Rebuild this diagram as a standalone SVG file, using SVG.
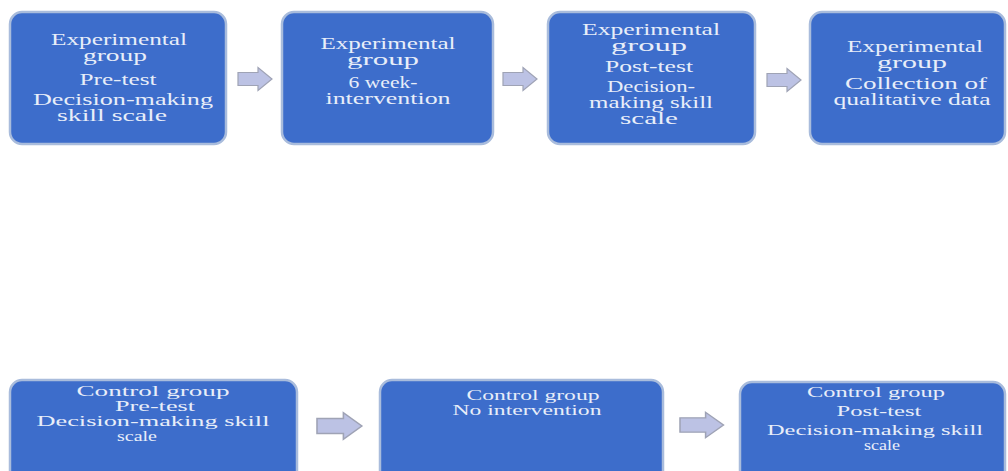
<svg xmlns="http://www.w3.org/2000/svg" width="1008" height="471" viewBox="0 0 1008 471">
<style>
.box{fill:#3d6dcb;stroke:#a9bcdc;stroke-width:2.5}
.t{font-family:"Liberation Serif","Times New Roman",serif;font-size:16px;fill:#e8eef9;text-anchor:middle}
.s{font-size:15px}
.arr{fill:#bcc2e4;stroke:#9fa3b5;stroke-width:1.2}
</style>
<defs>
<path id="arrow" d="M0,-6.5 H20 V-11.5 L34,0 L20,11.5 V6.5 H0 Z"/>
</defs>
<rect width="1008" height="471" fill="#ffffff"/>
<g id="exp-pretest">
<rect class="box" x="10" y="12" width="216" height="132" rx="12"/>
<text class="t" x="119" y="45" textLength="136" lengthAdjust="spacingAndGlyphs">Experimental</text>
<text class="t" x="115" y="61" textLength="64" lengthAdjust="spacingAndGlyphs">group</text>
<text class="t" x="118" y="85" textLength="77" lengthAdjust="spacingAndGlyphs">Pre-test</text>
<text class="t" x="123" y="105" textLength="180" lengthAdjust="spacingAndGlyphs">Decision-making</text>
<text class="t" x="112" y="121" textLength="110" lengthAdjust="spacingAndGlyphs">skill scale</text>
</g>
<g id="exp-intervention">
<rect class="box" x="282" y="12" width="211" height="132" rx="12"/>
<text class="t" x="388" y="49" textLength="135" lengthAdjust="spacingAndGlyphs">Experimental</text>
<text class="t" x="383" y="65" textLength="72" lengthAdjust="spacingAndGlyphs">group</text>
<text class="t" x="383" y="88" textLength="69" lengthAdjust="spacingAndGlyphs">6 week-</text>
<text class="t" x="388" y="104" textLength="125" lengthAdjust="spacingAndGlyphs">intervention</text>
</g>
<g id="exp-posttest">
<rect class="box" x="548" y="12" width="207" height="132" rx="12"/>
<text class="t" x="651" y="35" textLength="138" lengthAdjust="spacingAndGlyphs">Experimental</text>
<text class="t" x="649" y="51" textLength="76" lengthAdjust="spacingAndGlyphs">group</text>
<text class="t" x="649" y="72" textLength="88" lengthAdjust="spacingAndGlyphs">Post-test</text>
<text class="t" x="651" y="92" textLength="88" lengthAdjust="spacingAndGlyphs">Decision-</text>
<text class="t" x="651" y="108" textLength="124" lengthAdjust="spacingAndGlyphs">making skill</text>
<text class="t" x="649" y="124" textLength="58" lengthAdjust="spacingAndGlyphs">scale</text>
</g>
<g id="exp-qualitative">
<rect class="box" x="810" y="12" width="195" height="132" rx="12"/>
<text class="t" x="915" y="52" textLength="136" lengthAdjust="spacingAndGlyphs">Experimental</text>
<text class="t" x="912" y="68" textLength="70" lengthAdjust="spacingAndGlyphs">group</text>
<text class="t" x="916" y="89" textLength="142" lengthAdjust="spacingAndGlyphs">Collection of</text>
<text class="t" x="912" y="105" textLength="157" lengthAdjust="spacingAndGlyphs">qualitative data</text>
</g>
<g id="ctrl-pretest">
<rect class="box" x="10" y="380" width="287" height="105" rx="12"/>
<text class="t s" x="153" y="396" textLength="153" lengthAdjust="spacingAndGlyphs">Control group</text>
<text class="t s" x="155" y="411" textLength="80" lengthAdjust="spacingAndGlyphs">Pre-test</text>
<text class="t s" x="153" y="426" textLength="233" lengthAdjust="spacingAndGlyphs">Decision-making skill</text>
<text class="t s" x="137" y="441" textLength="40" lengthAdjust="spacingAndGlyphs">scale</text>
</g>
<g id="ctrl-nointervention">
<rect class="box" x="380" y="380" width="283" height="105" rx="12"/>
<text class="t s" x="533" y="400" textLength="133" lengthAdjust="spacingAndGlyphs">Control group</text>
<text class="t s" x="527" y="415" textLength="149" lengthAdjust="spacingAndGlyphs">No intervention</text>
</g>
<g id="ctrl-posttest">
<rect class="box" x="740" y="382" width="265" height="105" rx="12"/>
<text class="t s" x="876" y="397" textLength="138" lengthAdjust="spacingAndGlyphs">Control group</text>
<text class="t s" x="879" y="416" textLength="85" lengthAdjust="spacingAndGlyphs">Post-test</text>
<text class="t s" x="875" y="435" textLength="216" lengthAdjust="spacingAndGlyphs">Decision-making skill</text>
<text class="t s" x="882" y="450" textLength="36" lengthAdjust="spacingAndGlyphs">scale</text>
</g>
<g id="connectors">
<use href="#arrow" class="arr" transform="translate(238,79)"/>
<use href="#arrow" class="arr" transform="translate(503,79)"/>
<use href="#arrow" class="arr" transform="translate(767,80)"/>
<use href="#arrow" class="arr" transform="translate(317,426) scale(1.32,1.15)"/>
<use href="#arrow" class="arr" transform="translate(680,425) scale(1.28,1.1)"/>
</g>
</svg>
